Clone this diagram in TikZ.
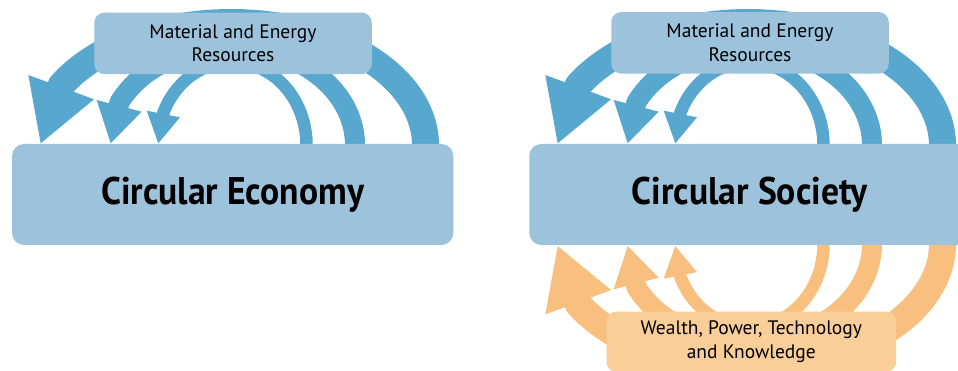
\documentclass[tikz,border=0pt]{standalone}
\usepackage{fontspec}
\setmainfont{PT Sans}
\newfontfamily\headfont[FakeStretch=0.925]{PT Sans}
\usetikzlibrary{calc}
\definecolor{boxblue}{HTML}{9DC3DC}
\definecolor{arcblue}{HTML}{58A7CE}
\definecolor{arcorange}{HTML}{F8BF7E}
\definecolor{boxorange}{HTML}{F9CE98}
\newcommand\cycleArrows[1]{%
  \foreach \px/\ra/\rb/\lw/\tend/\Lx/\Ly/\Tx/\Ty/\Rx/\Ry in {%
    231/194.5/122.5/27/150.8/28.3/75/40.7/143.3/94/99.3,%
    231/124/98/20/154.4/96.7/100/110.7/143.3/141.7/111.7,%
    232/74.5/83/12.5/157.3/146.7/110.7/158.3/143.3/180/117.3}{%
    \draw[#1, line width=\lw pt, line join=round]
      plot[domain=0:\tend, samples=60, variable=\ang] ({\px+\ra*cos(\ang)}, {145-\rb*sin(\ang)})
      -- ($(\Lx,\Ly)!0.5!(\Rx,\Ry)!10pt!(\Tx,\Ty)$);
    \fill[#1] (\Lx,\Ly) -- (\Tx,\Ty) -- (\Rx,\Ry) -- cycle;
  }%
}
\begin{document}
\begin{tikzpicture}[x=1pt,y=-1pt,
  mainbox/.style={fill=boxblue, rounded corners=12pt, inner sep=0pt, minimum width=441.3pt, minimum height=101pt, font=\headfont\bfseries\fontsize{38.5}{40}\selectfont},
  resbox/.style={fill=boxblue, rounded corners=10pt, inner sep=0pt, minimum width=277.5pt, minimum height=61.5pt, align=center, font=\fontsize{19.5}{23.5}\selectfont},
  wealthbox/.style={resbox, fill=boxorange, minimum width=289.5pt, minimum height=60.5pt}]
\useasboundingbox (0,0) rectangle (958,371);
\clip (0,0) rectangle (958,371);
\cycleArrows{arcblue}
\begin{scope}[shift={(517,0)}]
\cycleArrows{arcblue}
\end{scope}
\begin{scope}[shift={(517,389.4)}, yscale=-1]
\cycleArrows{arcorange}
\end{scope}
\node[resbox] (mer1) at (233,43.4) {Material and Energy\\Resources};
\node[mainbox] (ce) at (232.65,194.5) {Circular Economy};
\node[resbox] (mer2) at (750,42.8) {Material and Energy\\Resources};
\node[mainbox] (cs) at (749.9,194.5) {Circular Society};
\node[wealthbox] (wpt) at (751.3,341.8) {Wealth, Power, Technology\\and Knowledge};
\end{tikzpicture}
\end{document}
